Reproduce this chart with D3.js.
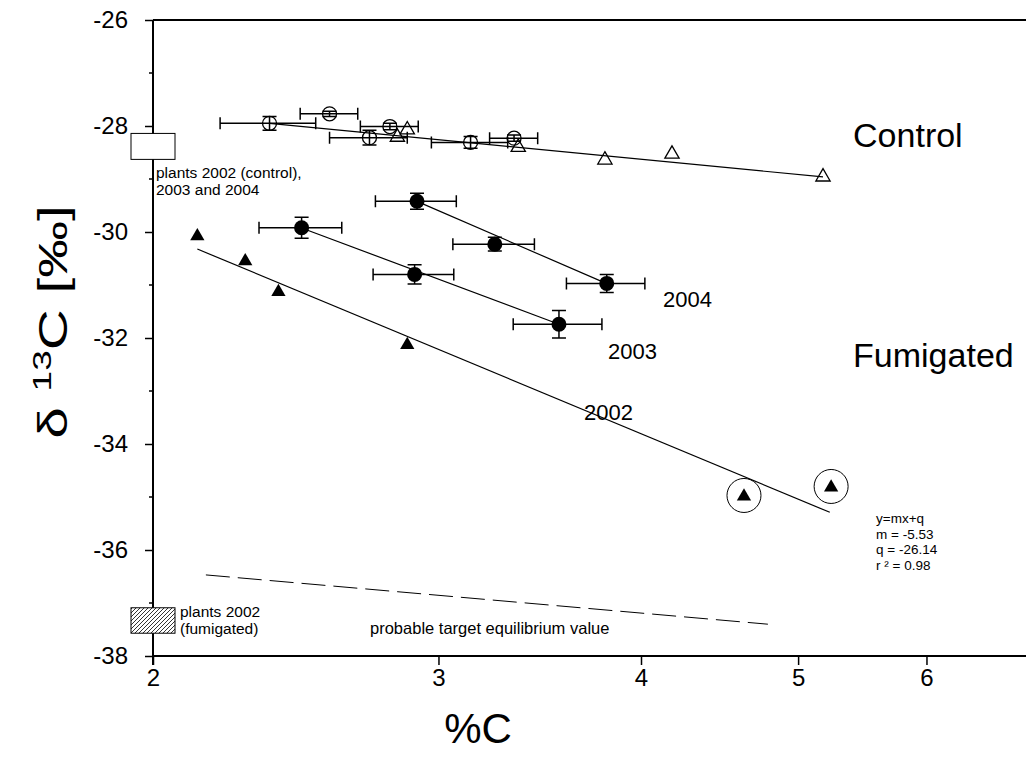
<!DOCTYPE html>
<html>
<head>
<meta charset="utf-8">
<script src="https://cdn.jsdelivr.net/npm/d3@7/dist/d3.min.js"></script>
<style>
  body { margin: 0; background: #fff; }
  text { font-family: "Liberation Sans", Arial, Helvetica, sans-serif; fill: #000; }
</style>
</head>
<body>
<svg id="chart" width="1026" height="760"></svg>
<script>
// control: open circles (mean of years, with error bars)
var ctrlCircX    = [2.36, 2.57, 2.72, 2.80, 3.14, 3.34];
var ctrlCircY    = [-27.95, -27.77, -28.22, -28.01, -28.31, -28.23];
var ctrlCircXErr = [0.16, 0.105, 0.15, 0.115, 0.17, 0.114];
var ctrlCircYErr = [0.13, 0.05, 0.14, 0.06, 0.11, 0.06];

// control: open triangles
var ctrlTriX = [2.83, 2.87, 3.36, 3.80, 4.18, 5.18];
var ctrlTriY = [-28.21, -28.07, -28.40, -28.64, -28.53, -28.96];

// fumigated 2002: filled triangles (last two circled)
var fum2002X = [2.13, 2.28, 2.39, 2.87, 4.63, 5.24];
var fum2002Y = [-30.08, -30.55, -31.13, -32.13, -34.99, -34.82];
var fum2002Circled = [false, false, false, false, true, true];

// fumigated 2003 and 2004: filled circles with error bars
var fum2003X    = [2.47, 2.90, 3.56];
var fum2003Y    = [-29.92, -30.80, -31.74];
var fum2003XErr = [0.145, 0.166, 0.224];
var fum2003YErr = [0.20, 0.18, 0.26];

var fum2004X    = [2.91, 3.25, 3.81];
var fum2004Y    = [-29.42, -30.23, -30.97];
var fum2004XErr = [0.167, 0.188, 0.212];
var fum2004YErr = [0.15, 0.13, 0.17];

// regression lines y = m*ln(x) + q
var fitNames = ["control", "2003", "2004", "2002"];
var fitM     = [-1.283, -4.97, -5.76, -5.53];
var fitQ     = [-26.85, -25.43, -23.27, -26.14];
var fitFrom  = [2.36, 2.47, 2.91, 2.13];
var fitTo    = [5.18, 3.56, 3.81, 5.23];

// probable target equilibrium value (dashed)
var equilX = [2.156, 4.79];
var equilY = [-36.47, -37.40];

// plant reference ranges on the y axis
var plantsCtrlRange = [-28.14, -28.63];
var plantsFumRange  = [-37.09, -37.57];

var xTicks = [2, 3, 4, 5, 6];
var yMajor = [-38, -36, -34, -32, -30, -28, -26];
var yMinor = [-37, -35, -33, -31, -29, -27];

var svg = d3.select("#chart");

var x = d3.scaleLog().domain([2, 7]).range([153, 1035]);
var y = d3.scaleLinear().domain([-38, -26]).range([656, 20]);

var g = svg.append("g");

// top frame line
g.append("line")
  .attr("x1", x(2)).attr("x2", 1026)
  .attr("y1", y(-26)).attr("y2", y(-26))
  .attr("stroke", "#000").attr("stroke-width", 2);

// x axis
var xAxis = d3.axisBottom(x)
  .tickValues(xTicks)
  .tickFormat(function(d) { return String(d); })
  .tickSize(9)
  .tickPadding(4);
var gx = g.append("g")
  .attr("transform", "translate(0," + y(-38) + ")")
  .call(xAxis);
gx.select(".domain").attr("stroke-width", 2).attr("d", "M" + x(2) + ",0H1026");
gx.selectAll(".tick line").attr("stroke-width", 1.5);
gx.selectAll(".tick text").attr("font-size", 24).style("font-family", "Liberation Sans, Arial, sans-serif");

// y axis
var yAxis = d3.axisLeft(y)
  .tickValues(yMajor)
  .tickFormat(function(d) { return String(d); })
  .tickSize(8)
  .tickPadding(17);
var gy = g.append("g")
  .attr("transform", "translate(" + x(2) + ",0)")
  .call(yAxis);
gy.select(".domain").attr("stroke-width", 2).attr("d", "M0," + y(-26) + "V" + (y(-38) + 9));
gy.selectAll(".tick line").attr("stroke-width", 1.5);
gy.selectAll(".tick text").attr("font-size", 24).style("font-family", "Liberation Sans, Arial, sans-serif");

gy.selectAll(".minor")
  .data(yMinor)
  .enter().append("line")
  .attr("x1", -4).attr("x2", 0)
  .attr("y1", function(d) { return y(d); })
  .attr("y2", function(d) { return y(d); })
  .attr("stroke", "#000").attr("stroke-width", 1.5);

// axis titles
svg.append("text")
  .attr("x", 478).attr("y", 743)
  .attr("text-anchor", "middle")
  .attr("font-size", 42)
  .text("%C");

var yt = svg.append("text")
  .attr("transform", "translate(67,322) rotate(-90) scale(1.42,1)")
  .attr("text-anchor", "middle")
  .attr("font-size", 40);
yt.append("tspan").text("δ ");
yt.append("tspan").attr("font-size", 26).attr("dy", -16).text("13");
yt.append("tspan").attr("dy", 16).text("C [‰]");

// hatch pattern for fumigated plant range
var defs = svg.append("defs");
var pat = defs.append("pattern")
  .attr("id", "hatch")
  .attr("patternUnits", "userSpaceOnUse")
  .attr("width", 4).attr("height", 4);
pat.append("rect").attr("width", 4).attr("height", 4).attr("fill", "#fff");
pat.append("path")
  .attr("d", "M-1,1 l2,-2 M0,4 l4,-4 M3,5 l2,-2")
  .attr("stroke", "#000").attr("stroke-width", 0.8);

// plant reference boxes
g.append("rect")
  .attr("x", x(2) - 22).attr("width", 44)
  .attr("y", y(plantsCtrlRange[0]))
  .attr("height", y(plantsCtrlRange[1]) - y(plantsCtrlRange[0]))
  .attr("fill", "#fff").attr("stroke", "#000").attr("stroke-width", 1);
g.append("rect")
  .attr("x", x(2) - 22).attr("width", 44)
  .attr("y", y(plantsFumRange[0]))
  .attr("height", y(plantsFumRange[1]) - y(plantsFumRange[0]))
  .attr("fill", "url(#hatch)").attr("stroke", "#000").attr("stroke-width", 1);

// regression lines
var fits = fitNames.map(function(n, i) {
  return { name: n, m: fitM[i], q: fitQ[i], from: fitFrom[i], to: fitTo[i] };
});
g.selectAll(".fit")
  .data(fits)
  .enter().append("line")
  .attr("class", "fit")
  .attr("x1", function(d) { return x(d.from); })
  .attr("x2", function(d) { return x(d.to); })
  .attr("y1", function(d) { return y(d.m * Math.log(d.from) + d.q); })
  .attr("y2", function(d) { return y(d.m * Math.log(d.to) + d.q); })
  .attr("stroke", "#000").attr("stroke-width", 1.2);

// dashed equilibrium line
g.append("line")
  .attr("x1", x(equilX[0])).attr("y1", y(equilY[0]))
  .attr("x2", x(equilX[1])).attr("y2", y(equilY[1]))
  .attr("stroke", "#000").attr("stroke-width", 1)
  .attr("stroke-dasharray", "24,8");

function zip(xs, ys, xe, ye) {
  return xs.map(function(v, i) {
    return { x: v, y: ys[i], xe: xe ? xe[i] : 0, ye: ye ? ye[i] : 0 };
  });
}

function errorBars(data) {
  var eb = g.append("g").attr("stroke", "#000").attr("stroke-width", 1.5).attr("fill", "none");
  data.forEach(function(d) {
    var x0 = x(d.x - d.xe), x1 = x(d.x + d.xe), yc = y(d.y);
    var y0 = y(d.y - d.ye), y1 = y(d.y + d.ye), xc = x(d.x);
    eb.append("path").attr("d",
      "M" + x0 + "," + yc + "H" + x1 +
      "M" + x0 + "," + (yc - 6) + "V" + (yc + 6) +
      "M" + x1 + "," + (yc - 6) + "V" + (yc + 6) +
      "M" + xc + "," + y0 + "V" + y1 +
      "M" + (xc - 7) + "," + y0 + "H" + (xc + 7) +
      "M" + (xc - 7) + "," + y1 + "H" + (xc + 7));
  });
}

var ctrlCirc = zip(ctrlCircX, ctrlCircY, ctrlCircXErr, ctrlCircYErr);
var c2003 = zip(fum2003X, fum2003Y, fum2003XErr, fum2003YErr);
var c2004 = zip(fum2004X, fum2004Y, fum2004XErr, fum2004YErr);

errorBars(ctrlCirc);
errorBars(c2003);
errorBars(c2004);

var tri = d3.symbol().type(d3.symbolTriangle).size(88);

// control triangles (open)
g.selectAll(".ctri")
  .data(zip(ctrlTriX, ctrlTriY))
  .enter().append("path")
  .attr("class", "ctri")
  .attr("d", tri)
  .attr("transform", function(d) { return "translate(" + x(d.x) + "," + y(d.y) + ")"; })
  .attr("fill", "none").attr("stroke", "#000").attr("stroke-width", 1.3);

// control circles (open)
g.selectAll(".ccirc")
  .data(ctrlCirc)
  .enter().append("circle")
  .attr("class", "ccirc")
  .attr("cx", function(d) { return x(d.x); })
  .attr("cy", function(d) { return y(d.y); })
  .attr("r", 7)
  .attr("fill", "none").attr("stroke", "#000").attr("stroke-width", 1.3);

// fumigated 2003/2004 circles (filled)
g.selectAll(".fcirc")
  .data(c2003.concat(c2004))
  .enter().append("circle")
  .attr("class", "fcirc")
  .attr("cx", function(d) { return x(d.x); })
  .attr("cy", function(d) { return y(d.y); })
  .attr("r", 7.5)
  .attr("fill", "#000");

// fumigated 2002 triangles (filled)
var f2002 = zip(fum2002X, fum2002Y).map(function(d, i) { d.circled = fum2002Circled[i]; return d; });
g.selectAll(".ftri")
  .data(f2002)
  .enter().append("path")
  .attr("class", "ftri")
  .attr("d", tri)
  .attr("transform", function(d) { return "translate(" + x(d.x) + "," + y(d.y) + ")"; })
  .attr("fill", "#000");
g.selectAll(".ring")
  .data(f2002.filter(function(d) { return d.circled; }))
  .enter().append("circle")
  .attr("class", "ring")
  .attr("cx", function(d) { return x(d.x); })
  .attr("cy", function(d) { return y(d.y) - 1; })
  .attr("r", 17)
  .attr("fill", "none").attr("stroke", "#000").attr("stroke-width", 1);

// annotations
function label(tx, ty, txt, size) {
  g.append("text").attr("x", x(tx)).attr("y", y(ty)).attr("font-size", size).text(txt);
}
label(5.406, -28.40, "Control", 34);
label(5.406, -32.55, "Fumigated", 34);
label(4.127, -31.42, "2004", 22);
label(3.817, -32.40, "2003", 22);
label(3.689, -33.55, "2002", 22);

var plantsCtrlLines = ["plants 2002 (control),", "2003 and 2004"];
plantsCtrlLines.forEach(function(t, i) {
  g.append("text").attr("x", x(2) + 3).attr("y", 178 + i * 17).attr("font-size", 15.5).text(t);
});
var plantsFumLines = ["plants 2002", "(fumigated)"];
plantsFumLines.forEach(function(t, i) {
  g.append("text").attr("x", x(2) + 27).attr("y", 617 + i * 17).attr("font-size", 15.5).text(t);
});

g.append("text").attr("x", 370).attr("y", 634).attr("font-size", 16.5).text("probable target equilibrium value");

var fitText = ["y=mx+q", "m = -5.53", "q  = -26.14", "r ² = 0.98"];
fitText.forEach(function(t, i) {
  g.append("text").attr("x", 876).attr("y", 523 + i * 15.7).attr("font-size", 13.5).text(t);
});
</script>
</body>
</html>
